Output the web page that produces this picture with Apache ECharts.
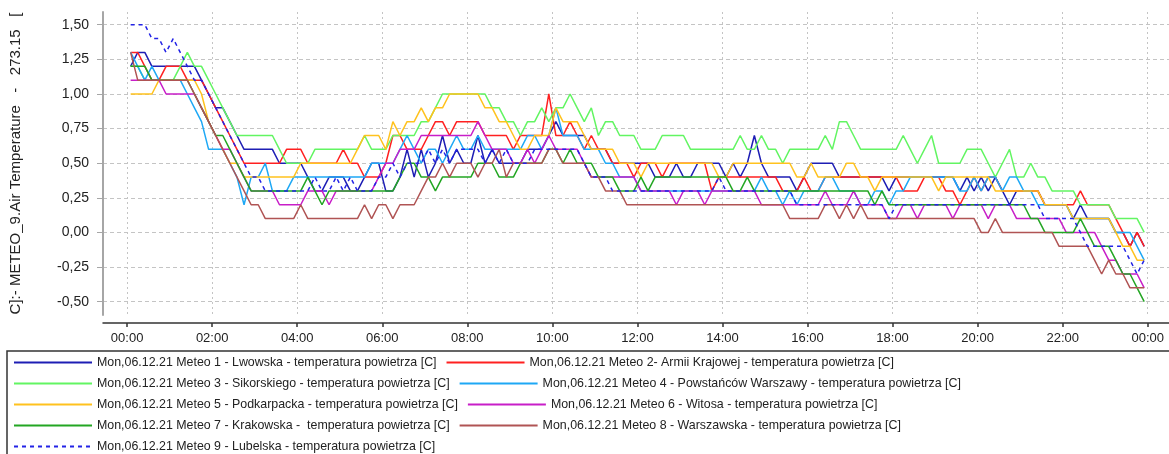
<!DOCTYPE html>
<html>
<head>
<meta charset="utf-8">
<title>METEO temperatura powietrza</title>
<script src="https://cdn.jsdelivr.net/npm/echarts@6/dist/echarts.min.js"></script>
<style>
html, body { margin: 0; padding: 0; background: #fff; }
#chart { width: 1169px; height: 454px; }
</style>
</head>
<body>
<div id="chart"></div>
<script>
// odczyty co 10 minut, pierwszy o 00:05 (minuty od północy)
const startMinute = 5
const stepMinutes = 10

// jedna linia tablicy = jedna godzina (6 odczytów)
const lwowska = [
    1.2, 1.3, 1.3, 1.2, 1.2, 1.2,
    1.2, 1.2, 1.2, 1.2, 1.1, 1.0,
    0.9, 0.9, 0.8, 0.7, 0.6, 0.6,
    0.6, 0.6, 0.6, 0.5, 0.5, 0.5,
    0.5, 0.4, 0.3, 0.3, 0.4, 0.4,
    0.4, 0.3, 0.3, 0.4, 0.5, 0.5,
    0.3, 0.3, 0.4, 0.6, 0.4, 0.6,
    0.4, 0.5, 0.7, 0.5, 0.6, 0.5,
    0.5, 0.7, 0.5, 0.6, 0.5, 0.5,
    0.5, 0.5, 0.6, 0.6, 0.6, 0.7,
    0.8, 0.7, 0.7, 0.7, 0.7, 0.6,
    0.6, 0.6, 0.5, 0.5, 0.5, 0.5,
    0.5, 0.5, 0.4, 0.4, 0.4, 0.5,
    0.4, 0.4, 0.5, 0.5, 0.5, 0.5,
    0.4, 0.5, 0.4, 0.5, 0.7, 0.5,
    0.4, 0.4, 0.4, 0.4, 0.3, 0.4,
    0.5, 0.5, 0.5, 0.5, 0.4, 0.4,
    0.4, 0.4, 0.4, 0.4, 0.4, 0.3,
    0.4, 0.4, 0.4, 0.4, 0.4, 0.4,
    0.4, 0.4, 0.4, 0.3, 0.4, 0.3,
    0.4, 0.3, 0.4, 0.3, 0.2, 0.3,
    0.3, 0.3, 0.3, 0.2, 0.2, 0.2,
    0.2, 0.1, 0.2, 0.1, 0.1, 0.1,
    0.1, 0.0, 0.0, -0.1, 0.0, -0.1
]
const armiiKrajowej = [
    1.3, 1.3, 1.2, 1.1, 1.1, 1.2,
    1.2, 1.2, 1.1, 1.1, 1.1, 1.0,
    0.9, 0.8, 0.7, 0.6, 0.5, 0.5,
    0.5, 0.5, 0.5, 0.5, 0.6, 0.6,
    0.6, 0.5, 0.5, 0.5, 0.5, 0.5,
    0.6, 0.5, 0.5, 0.4, 0.4, 0.4,
    0.5, 0.7, 0.7, 0.6, 0.6, 0.6,
    0.7, 0.8, 0.8, 0.7, 0.8, 0.8,
    0.8, 0.8, 0.7, 0.7, 0.7, 0.7,
    0.6, 0.7, 0.7, 0.7, 0.7, 1.0,
    0.7, 0.7, 0.8, 0.7, 0.6, 0.7,
    0.6, 0.6, 0.5, 0.5, 0.5, 0.4,
    0.5, 0.5, 0.5, 0.4, 0.5, 0.5,
    0.5, 0.5, 0.5, 0.5, 0.3, 0.4,
    0.4, 0.4, 0.4, 0.4, 0.4, 0.4,
    0.4, 0.4, 0.3, 0.3, 0.3, 0.4,
    0.3, 0.3, 0.4, 0.4, 0.4, 0.4,
    0.4, 0.4, 0.4, 0.4, 0.4, 0.4,
    0.4, 0.3, 0.3, 0.3, 0.4, 0.4,
    0.4, 0.3, 0.3, 0.2, 0.3, 0.4,
    0.3, 0.4, 0.4, 0.3, 0.3, 0.3,
    0.3, 0.3, 0.3, 0.2, 0.2, 0.2,
    0.2, 0.2, 0.3, 0.2, 0.2, 0.2,
    0.2, 0.1, 0.0, -0.1, 0.0, -0.1
]
const sikorskiego = [
    1.2, 1.2, 1.1, 1.1, 1.1, 1.1,
    1.1, 1.2, 1.3, 1.2, 1.2, 1.1,
    1.0, 0.9, 0.8, 0.7, 0.7, 0.7,
    0.7, 0.7, 0.7, 0.6, 0.5, 0.5,
    0.5, 0.5, 0.6, 0.6, 0.6, 0.6,
    0.6, 0.6, 0.6, 0.7, 0.6, 0.6,
    0.6, 0.7, 0.7, 0.7, 0.7, 0.8,
    0.8, 0.9, 1.0, 1.0, 1.0, 1.0,
    1.0, 1.0, 1.0, 0.9, 0.9, 0.8,
    0.8, 0.7, 0.8, 0.8, 0.9, 0.8,
    0.9, 0.9, 1.0, 0.9, 0.8, 0.9,
    0.7, 0.8, 0.8, 0.7, 0.7, 0.7,
    0.6, 0.6, 0.6, 0.7, 0.7, 0.7,
    0.7, 0.6, 0.6, 0.6, 0.6, 0.6,
    0.6, 0.6, 0.7, 0.6, 0.6, 0.7,
    0.6, 0.6, 0.5, 0.6, 0.6, 0.6,
    0.6, 0.6, 0.7, 0.6, 0.8, 0.8,
    0.7, 0.6, 0.6, 0.6, 0.6, 0.6,
    0.6, 0.7, 0.6, 0.5, 0.6, 0.7,
    0.5, 0.5, 0.5, 0.5, 0.6, 0.6,
    0.6, 0.5, 0.4, 0.5, 0.6, 0.4,
    0.4, 0.5, 0.4, 0.4, 0.3, 0.3,
    0.3, 0.3, 0.2, 0.2, 0.2, 0.2,
    0.2, 0.1, 0.1, 0.1, 0.1, 0.0
]
const powstancowWarszawy = [
    1.3, 1.2, 1.1, 1.2, 1.1, 1.1,
    1.1, 1.1, 1.0, 0.9, 0.8, 0.6,
    0.6, 0.6, 0.5, 0.4, 0.2, 0.4,
    0.4, 0.5, 0.3, 0.3, 0.3, 0.4,
    0.4, 0.4, 0.4, 0.4, 0.4, 0.4,
    0.4, 0.4, 0.4, 0.4, 0.5, 0.5,
    0.5, 0.5, 0.6, 0.7, 0.6, 0.5,
    0.6, 0.6, 0.5, 0.6, 0.7, 0.6,
    0.6, 0.7, 0.6, 0.6, 0.6, 0.6,
    0.6, 0.6, 0.7, 0.7, 0.6, 0.7,
    0.9, 0.7, 0.7, 0.7, 0.6, 0.6,
    0.6, 0.5, 0.5, 0.4, 0.4, 0.4,
    0.3, 0.3, 0.3, 0.3, 0.3, 0.3,
    0.3, 0.3, 0.3, 0.3, 0.3, 0.3,
    0.3, 0.3, 0.3, 0.3, 0.3, 0.4,
    0.3, 0.3, 0.2, 0.3, 0.2, 0.3,
    0.3, 0.3, 0.4, 0.4, 0.3, 0.3,
    0.3, 0.2, 0.2, 0.3, 0.3, 0.2,
    0.3, 0.3, 0.4, 0.4, 0.4, 0.4,
    0.4, 0.4, 0.4, 0.3, 0.3, 0.4,
    0.3, 0.4, 0.4, 0.3, 0.4, 0.4,
    0.3, 0.3, 0.2, 0.2, 0.2, 0.2,
    0.2, 0.1, 0.1, 0.1, 0.1, 0.1,
    0.1, 0.0, 0.0, 0.0, -0.1, -0.2
]
const podkarpacka = [
    1.0, 1.0, 1.0, 1.0, 1.1, 1.1,
    1.1, 1.1, 1.1, 1.1, 1.0, 0.8,
    0.7, 0.6, 0.5, 0.5, 0.4, 0.4,
    0.4, 0.4, 0.4, 0.4, 0.4, 0.4,
    0.5, 0.5, 0.5, 0.5, 0.5, 0.5,
    0.5, 0.5, 0.6, 0.7, 0.7, 0.7,
    0.6, 0.8, 0.7, 0.8, 0.8, 0.9,
    0.8, 0.9, 0.9, 1.0, 1.0, 1.0,
    1.0, 1.0, 0.9, 0.9, 0.8, 0.8,
    0.7, 0.6, 0.6, 0.7, 0.7, 0.7,
    0.9, 0.8, 0.8, 0.8, 0.7, 0.6,
    0.6, 0.6, 0.6, 0.5, 0.5, 0.5,
    0.4, 0.5, 0.5, 0.5, 0.5, 0.5,
    0.5, 0.5, 0.5, 0.5, 0.5, 0.4,
    0.4, 0.5, 0.5, 0.5, 0.5, 0.5,
    0.5, 0.5, 0.5, 0.5, 0.4, 0.4,
    0.5, 0.4, 0.4, 0.4, 0.4, 0.5,
    0.5, 0.4, 0.4, 0.3, 0.4, 0.4,
    0.4, 0.4, 0.4, 0.4, 0.4, 0.4,
    0.3, 0.4, 0.4, 0.4, 0.4, 0.4,
    0.4, 0.4, 0.3, 0.3, 0.3, 0.3,
    0.3, 0.3, 0.3, 0.2, 0.2, 0.2,
    0.2, 0.1, 0.1, 0.1, 0.1, 0.1,
    0.1, 0.0, -0.1, -0.1, -0.2, -0.2
]
const witosa = [
    1.1, 1.1, 1.1, 1.1, 1.1, 1.0,
    1.0, 1.0, 1.0, 1.0, 0.9, 0.8,
    0.7, 0.6, 0.6, 0.5, 0.4, 0.3,
    0.3, 0.3, 0.3, 0.2, 0.2, 0.2,
    0.2, 0.3, 0.3, 0.3, 0.2, 0.3,
    0.3, 0.3, 0.3, 0.3, 0.3, 0.4,
    0.5, 0.5, 0.6, 0.6, 0.6, 0.7,
    0.7, 0.7, 0.7, 0.7, 0.7, 0.7,
    0.7, 0.8, 0.7, 0.6, 0.6, 0.6,
    0.5, 0.5, 0.6, 0.5, 0.6, 0.7,
    0.6, 0.6, 0.6, 0.6, 0.5, 0.4,
    0.4, 0.4, 0.4, 0.4, 0.4, 0.4,
    0.3, 0.3, 0.3, 0.3, 0.3, 0.2,
    0.3, 0.3, 0.3, 0.2, 0.3, 0.3,
    0.3, 0.3, 0.3, 0.3, 0.3, 0.2,
    0.2, 0.2, 0.2, 0.2, 0.2, 0.2,
    0.2, 0.2, 0.3, 0.2, 0.2, 0.2,
    0.3, 0.2, 0.2, 0.2, 0.2, 0.1,
    0.1, 0.2, 0.2, 0.1, 0.2, 0.2,
    0.2, 0.2, 0.1, 0.2, 0.2, 0.2,
    0.2, 0.1, 0.2, 0.2, 0.2, 0.1,
    0.1, 0.1, 0.1, 0.1, 0.1, 0.1,
    0.0, 0.0, 0.0, 0.0, 0.0, -0.1,
    -0.2, -0.2, -0.3, -0.3, -0.3, -0.4
]
const krakowska = [
    1.2, 1.2, 1.2, 1.1, 1.1, 1.1,
    1.1, 1.1, 1.1, 1.0, 0.9, 0.8,
    0.7, 0.7, 0.6, 0.5, 0.4, 0.3,
    0.3, 0.3, 0.3, 0.3, 0.3, 0.3,
    0.3, 0.4, 0.3, 0.2, 0.3, 0.3,
    0.3, 0.3, 0.3, 0.3, 0.3, 0.3,
    0.3, 0.3, 0.4, 0.5, 0.5, 0.4,
    0.4, 0.3, 0.4, 0.4, 0.4, 0.4,
    0.4, 0.5, 0.5, 0.5, 0.4, 0.4,
    0.4, 0.5, 0.5, 0.5, 0.5, 0.6,
    0.6, 0.5, 0.6, 0.5, 0.5, 0.5,
    0.4, 0.4, 0.4, 0.3, 0.3, 0.3,
    0.4, 0.3, 0.4, 0.4, 0.4, 0.4,
    0.4, 0.4, 0.4, 0.4, 0.4, 0.4,
    0.4, 0.3, 0.3, 0.4, 0.3, 0.3,
    0.3, 0.3, 0.3, 0.3, 0.3, 0.3,
    0.3, 0.3, 0.3, 0.3, 0.3, 0.3,
    0.3, 0.3, 0.3, 0.2, 0.3, 0.2,
    0.2, 0.2, 0.2, 0.2, 0.2, 0.2,
    0.2, 0.2, 0.2, 0.2, 0.2, 0.2,
    0.2, 0.2, 0.2, 0.2, 0.2, 0.2,
    0.2, 0.1, 0.1, 0.0, 0.0, 0.0,
    0.0, 0.0, 0.1, 0.0, -0.1, -0.1,
    -0.1, -0.2, -0.3, -0.3, -0.4, -0.5
]
const warszawska = [
    1.3, 1.1, 1.1, 1.1, 1.1, 1.1,
    1.1, 1.1, 1.1, 1.0, 0.9, 0.8,
    0.7, 0.6, 0.5, 0.4, 0.3, 0.2,
    0.2, 0.1, 0.1, 0.1, 0.1, 0.1,
    0.2, 0.1, 0.1, 0.1, 0.1, 0.1,
    0.1, 0.1, 0.1, 0.2, 0.1, 0.2,
    0.2, 0.1, 0.2, 0.2, 0.2, 0.3,
    0.4, 0.4, 0.5, 0.4, 0.5, 0.5,
    0.5, 0.4, 0.5, 0.5, 0.6, 0.4,
    0.5, 0.5, 0.5, 0.5, 0.5, 0.6,
    0.6, 0.5, 0.5, 0.5, 0.5, 0.4,
    0.4, 0.3, 0.3, 0.3, 0.2, 0.2,
    0.2, 0.2, 0.2, 0.2, 0.2, 0.2,
    0.2, 0.2, 0.2, 0.2, 0.2, 0.2,
    0.2, 0.2, 0.2, 0.2, 0.2, 0.2,
    0.2, 0.2, 0.2, 0.1, 0.1, 0.1,
    0.1, 0.1, 0.2, 0.2, 0.1, 0.2,
    0.1, 0.2, 0.1, 0.1, 0.1, 0.1,
    0.1, 0.1, 0.1, 0.1, 0.1, 0.1,
    0.1, 0.1, 0.1, 0.1, 0.1, 0.1,
    0.0, 0.0, 0.1, 0.0, 0.0, 0.0,
    0.0, 0.0, 0.0, 0.0, 0.0, -0.1,
    -0.1, -0.1, -0.1, -0.1, -0.2, -0.3,
    -0.2, -0.3, -0.3, -0.4, -0.4, -0.4
]
const lubelska = [
    1.5, 1.5, 1.5, 1.4, 1.4, 1.3,
    1.4, 1.3, 1.2, 1.1, 1.1, 1.0,
    0.9, 0.8, 0.7, 0.6, 0.5, 0.4,
    0.4, 0.3, 0.3, 0.3, 0.3, 0.3,
    0.3, 0.3, 0.4, 0.3, 0.3, 0.4,
    0.3, 0.4, 0.3, 0.3, 0.3, 0.4,
    0.4, 0.5, 0.4, 0.5, 0.5, 0.5,
    0.6, 0.5, 0.6, 0.5, 0.6, 0.6,
    0.6, 0.6, 0.5, 0.6, 0.5, 0.6,
    0.5, 0.5, 0.5, 0.6, 0.6, 0.6,
    0.6, 0.6, 0.6, 0.6, 0.5, 0.4,
    0.4, 0.4, 0.3, 0.3, 0.3, 0.3,
    0.3, 0.3, 0.3, 0.3, 0.3, 0.3,
    0.3, 0.3, 0.3, 0.3, 0.3, 0.4,
    0.3, 0.3, 0.3, 0.3, 0.3, 0.3,
    0.3, 0.3, 0.3, 0.3, 0.2, 0.2,
    0.2, 0.2, 0.2, 0.2, 0.2, 0.2,
    0.2, 0.2, 0.2, 0.2, 0.2, 0.1,
    0.2, 0.2, 0.2, 0.2, 0.2, 0.2,
    0.2, 0.2, 0.2, 0.2, 0.2, 0.2,
    0.2, 0.2, 0.2, 0.2, 0.2, 0.2,
    0.2, 0.2, 0.2, 0.1, 0.1, 0.1,
    0.1, 0.1, 0.0, -0.1, -0.1, -0.1,
    -0.1, -0.1, -0.1, -0.2, -0.3, -0.2
]

const seriesNames = [
    'Mon,06.12.21 Meteo 1 - Lwowska - temperatura powietrza [C]',
    'Mon,06.12.21 Meteo 2- Armii Krajowej - temperatura powietrza [C]',
    'Mon,06.12.21 Meteo 3 - Sikorskiego - temperatura powietrza [C]',
    'Mon,06.12.21 Meteo 4 - Powstańców Warszawy - temperatura powietrza [C]',
    'Mon,06.12.21 Meteo 5 - Podkarpacka - temperatura powietrza [C]',
    'Mon,06.12.21 Meteo 6 - Witosa - temperatura powietrza [C]',
    'Mon,06.12.21 Meteo 7 - Krakowska -  temperatura powietrza [C]',
    'Mon,06.12.21 Meteo 8 - Warszawska - temperatura powietrza [C]',
    'Mon,06.12.21 Meteo 9 - Lubelska - temperatura powietrza [C]'
]
const seriesValues = [lwowska, armiiKrajowej, sikorskiego, powstancowWarszawy, podkarpacka, witosa, krakowska, warszawska, lubelska]
const seriesColors = ['#1e1eb4', '#ff2020', '#62f562', '#1ea8f5', '#ffc21e', '#c81ec8', '#23a623', '#b05454', '#2323e6']

// ticks of both axes
const xTicks = [0, 120, 240, 360, 480, 600, 720, 840, 960, 1080, 1200, 1320, 1440]
const yTicks = [-0.5, -0.25, 0, 0.25, 0.5, 0.75, 1, 1.25, 1.5]
const yTitle = 'C]:- METEO_9.Air Temperature   -   273.15   ['

const font = 'Liberation Sans, Arial, Helvetica, sans-serif'

const pad = n => (n < 10 ? '0' : '') + n
const timeLabel = m => pad(Math.floor(m / 60) % 24) + ':' + pad(m % 60)

const chart = echarts.init(document.getElementById('chart'))

const option = {
    animation: false,
    backgroundColor: '#fff',
    textStyle: { fontFamily: font },
    grid: { left: 98, right: 0, top: 12, bottom: 139 },
    xAxis: {
        type: 'value',
        min: -34,
        max: 1470,
        offset: 8,
        axisLine: { onZero: false, lineStyle: { color: '#333', width: 1.5 } },
        axisTick: { customValues: xTicks, length: 4, lineStyle: { color: '#333', width: 1.5 } },
        axisLabel: {
            customValues: xTicks,
            formatter: v => timeLabel(v),
            fontSize: 13,
            color: '#222',
            margin: 9
        },
        splitLine: { show: true, lineStyle: { color: '#c4c4c4', type: [2, 3], width: 1 } }
    },
    yAxis: {
        type: 'value',
        min: -0.596,
        max: 1.592,
        name: yTitle,
        nameLocation: 'middle',
        nameGap: 80,
        nameRotate: 90,
        nameTextStyle: { fontSize: 15, color: '#222' },
        axisLine: { show: true, onZero: false, lineStyle: { color: '#a6a6a6', width: 2 } },
        axisTick: { show: true, customValues: yTicks, length: 6, lineStyle: { color: '#a6a6a6' } },
        axisLabel: {
            customValues: yTicks,
            formatter: v => v.toFixed(2).replace('.', ','),
            fontSize: 14,
            color: '#222',
            margin: 14
        },
        splitLine: { show: true, lineStyle: { color: '#c4c4c4', type: [4, 3], width: 1 } }
    },
    legend: {
        left: 7,
        top: 351,
        width: 1100,
        orient: 'horizontal',
        padding: [5.5, 400, 80, 6],
        itemGap: 9,
        itemWidth: 78,
        itemHeight: 10,
        borderColor: '#333',
        borderWidth: 1.5,
        itemStyle: { opacity: 0 },
        textStyle: { fontSize: 12.4, color: '#222', fontFamily: font },
        data: seriesNames
    },
    series: seriesNames.map((name, i) => ({
        name: name,
        type: 'line',
        symbol: 'none',
        data: seriesValues[i].map((v, k) => [startMinute + stepMinutes * k, v]),
        itemStyle: { color: seriesColors[i] },
        lineStyle: { color: seriesColors[i], width: 1.5, type: i === 8 ? [4, 4] : 'solid' }
    }))
}

chart.setOption(option)
</script>
</body>
</html>
